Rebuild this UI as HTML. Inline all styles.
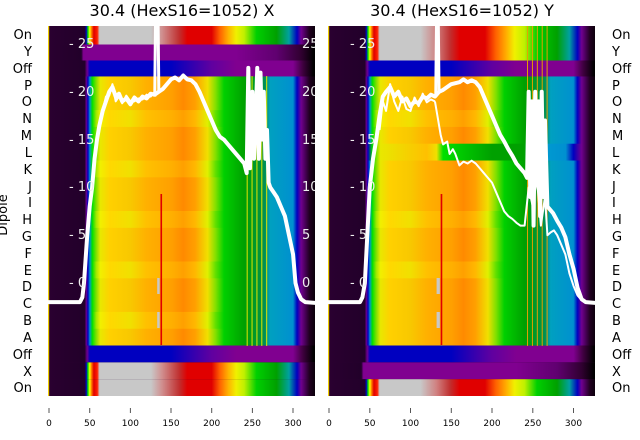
<!DOCTYPE html>
<html><head><meta charset="utf-8"><style>
body{margin:0;background:#fff;}
svg{display:block;font-family:"DejaVu Sans","Liberation Sans",sans-serif;}
</style></head><body>
<svg width="640" height="440" viewBox="0 0 640 440" xmlns="http://www.w3.org/2000/svg">
<defs>
<linearGradient id="main" gradientUnits="userSpaceOnUse" x1="0" y1="0" x2="330" y2="0">
<stop offset="0" stop-color="#2a0030"/><stop offset=".133" stop-color="#22002a"/><stop offset=".139" stop-color="#6a0090"/><stop offset=".145" stop-color="#0000c0"/><stop offset=".152" stop-color="#0090d0"/><stop offset=".161" stop-color="#00e000"/><stop offset=".176" stop-color="#80e000"/><stop offset=".191" stop-color="#e8e800"/><stop offset=".227" stop-color="#ffd000"/><stop offset=".303" stop-color="#f8c800"/><stop offset=".364" stop-color="#ffb000"/><stop offset=".455" stop-color="#ffa000"/><stop offset=".5" stop-color="#ff8a00"/><stop offset=".545" stop-color="#ffa000"/><stop offset=".591" stop-color="#f0e000"/><stop offset=".621" stop-color="#80e000"/><stop offset=".652" stop-color="#00d000"/><stop offset=".727" stop-color="#00a000"/><stop offset=".803" stop-color="#009050"/><stop offset=".824" stop-color="#00a0c0"/><stop offset=".909" stop-color="#0090d0"/><stop offset=".924" stop-color="#0000c0"/><stop offset=".939" stop-color="#700090"/><stop offset=".97" stop-color="#200020"/><stop offset="1" stop-color="#000"/>
</linearGradient>
<linearGradient id="main2" gradientUnits="userSpaceOnUse" x1="0" y1="0" x2="330" y2="0">
<stop offset="0" stop-color="#2a0030"/><stop offset=".133" stop-color="#22002a"/><stop offset=".139" stop-color="#6a0090"/><stop offset=".145" stop-color="#0000c0"/><stop offset=".152" stop-color="#0090d0"/><stop offset=".161" stop-color="#00e000"/><stop offset=".176" stop-color="#a0e800"/><stop offset=".191" stop-color="#f0f000"/><stop offset=".227" stop-color="#ffd800"/><stop offset=".303" stop-color="#f0e000"/><stop offset=".364" stop-color="#ffc000"/><stop offset=".455" stop-color="#ffb000"/><stop offset=".5" stop-color="#ffa000"/><stop offset=".545" stop-color="#ffb800"/><stop offset=".591" stop-color="#e0f000"/><stop offset=".621" stop-color="#60e000"/><stop offset=".652" stop-color="#00d000"/><stop offset=".727" stop-color="#00a000"/><stop offset=".803" stop-color="#009050"/><stop offset=".824" stop-color="#00a0c0"/><stop offset=".909" stop-color="#0090d0"/><stop offset=".924" stop-color="#0000c0"/><stop offset=".939" stop-color="#700090"/><stop offset=".97" stop-color="#200020"/><stop offset="1" stop-color="#000"/>
</linearGradient>
<linearGradient id="on" gradientUnits="userSpaceOnUse" x1="0" y1="0" x2="330" y2="0">
<stop offset="0" stop-color="#2a0030"/><stop offset=".133" stop-color="#22002a"/><stop offset=".139" stop-color="#0000c0"/><stop offset=".145" stop-color="#00e000"/><stop offset=".152" stop-color="#ffff00"/><stop offset=".158" stop-color="#ff8000"/><stop offset=".167" stop-color="#e00000"/><stop offset=".18" stop-color="#ff2000"/><stop offset=".188" stop-color="#c8c8c8"/><stop offset=".38" stop-color="#c8c8c8"/><stop offset=".42" stop-color="#d09090"/><stop offset=".485" stop-color="#c03030"/><stop offset=".515" stop-color="#e00000"/><stop offset=".606" stop-color="#e00000"/><stop offset=".636" stop-color="#ff6000"/><stop offset=".667" stop-color="#ffb000"/><stop offset=".697" stop-color="#f0f000"/><stop offset=".727" stop-color="#c0f000"/><stop offset=".773" stop-color="#00d000"/><stop offset=".848" stop-color="#00a000"/><stop offset=".894" stop-color="#00a0a0"/><stop offset=".924" stop-color="#0000c0"/><stop offset=".939" stop-color="#700090"/><stop offset=".97" stop-color="#200020"/><stop offset="1" stop-color="#000"/>
</linearGradient>
<linearGradient id="onR" gradientUnits="userSpaceOnUse" x1="0" y1="0" x2="330" y2="0">
<stop offset="0" stop-color="#2a0030"/><stop offset=".133" stop-color="#22002a"/><stop offset=".139" stop-color="#0000c0"/><stop offset=".145" stop-color="#00e000"/><stop offset=".152" stop-color="#ffff00"/><stop offset=".158" stop-color="#ff8000"/><stop offset=".167" stop-color="#e00000"/><stop offset=".18" stop-color="#ff2000"/><stop offset=".188" stop-color="#c8c8c8"/><stop offset=".34" stop-color="#c8c8c8"/><stop offset=".40" stop-color="#d08080"/><stop offset=".45" stop-color="#c03030"/><stop offset=".485" stop-color="#e00000"/><stop offset=".58" stop-color="#e00000"/><stop offset=".62" stop-color="#ff6000"/><stop offset=".66" stop-color="#ffb000"/><stop offset=".69" stop-color="#f0f000"/><stop offset=".727" stop-color="#c0f000"/><stop offset=".773" stop-color="#00d000"/><stop offset=".848" stop-color="#00a000"/><stop offset=".894" stop-color="#00a0a0"/><stop offset=".924" stop-color="#0000c0"/><stop offset=".939" stop-color="#700090"/><stop offset=".97" stop-color="#200020"/><stop offset="1" stop-color="#000"/>
</linearGradient>
<linearGradient id="off" gradientUnits="userSpaceOnUse" x1="0" y1="0" x2="330" y2="0">
<stop offset="0" stop-color="#2a0030"/><stop offset=".133" stop-color="#22002a"/><stop offset=".142" stop-color="#700090"/><stop offset=".152" stop-color="#0000c0"/><stop offset=".455" stop-color="#0000c0"/><stop offset=".606" stop-color="#6000a0"/><stop offset=".697" stop-color="#800090"/><stop offset=".909" stop-color="#800090"/><stop offset=".945" stop-color="#400040"/><stop offset=".985" stop-color="#000"/><stop offset="1" stop-color="#000"/>
</linearGradient>
<linearGradient id="purp" gradientUnits="userSpaceOnUse" x1="0" y1="0" x2="330" y2="0">
<stop offset="0" stop-color="#2a0030"/><stop offset=".12" stop-color="#22002a"/><stop offset=".128" stop-color="#800090"/><stop offset=".697" stop-color="#800090"/><stop offset=".848" stop-color="#600070"/><stop offset=".94" stop-color="#300030"/><stop offset=".985" stop-color="#000"/><stop offset="1" stop-color="#000"/>
</linearGradient>
<linearGradient id="lrow" gradientUnits="userSpaceOnUse" x1="0" y1="0" x2="330" y2="0">
<stop offset="0" stop-color="#2a0030"/><stop offset=".133" stop-color="#22002a"/><stop offset=".139" stop-color="#6a0090"/><stop offset=".145" stop-color="#0000c0"/><stop offset=".161" stop-color="#00e000"/><stop offset=".191" stop-color="#e8e800"/><stop offset=".364" stop-color="#ffc000"/><stop offset=".40" stop-color="#f0e000"/><stop offset=".424" stop-color="#00e000"/><stop offset=".606" stop-color="#00a000"/><stop offset=".727" stop-color="#00a000"/><stop offset=".758" stop-color="#00a0d0"/><stop offset=".88" stop-color="#0090d0"/><stop offset=".909" stop-color="#0000c0"/><stop offset=".939" stop-color="#700090"/><stop offset=".97" stop-color="#200020"/><stop offset="1" stop-color="#000"/>
</linearGradient>
<clipPath id="cpL"><rect x="48" y="26" width="267" height="370"/></clipPath>
<clipPath id="cpR"><rect x="328" y="26" width="267" height="370"/></clipPath>
</defs>

<text x="182" y="16" font-size="16" text-anchor="middle" fill="#000">30.4 (HexS16=1052) X</text>
<text x="462" y="16" font-size="16" text-anchor="middle" fill="#000">30.4 (HexS16=1052) Y</text>

<!-- LEFT PANEL -->
<g clip-path="url(#cpL)">
<g transform="translate(49,26) scale(0.8135,1)">
<rect x="-2" y="0" width="332" height="370" fill="#2a0030"/>
<rect x="0" y="0" width="330" height="18.5" fill="url(#on)"/>
<rect x="0" y="18.5" width="330" height="16" fill="url(#purp)"/>
<rect x="0" y="34.5" width="330" height="16" fill="url(#off)"/>
<rect x="0" y="50.45" width="330" height="269.1" fill="url(#main)"/>
<rect x="0" y="84.1" width="330" height="16.82" fill="url(#main2)"/>
<rect x="0" y="134.5" width="330" height="16.82" fill="url(#main2)"/>
<rect x="0" y="185" width="330" height="16.82" fill="url(#main2)"/>
<rect x="0" y="235.5" width="330" height="16.82" fill="url(#main2)"/>
<rect x="0" y="285.9" width="330" height="16.82" fill="url(#main2)"/>
<rect x="0" y="319.5" width="330" height="16.82" fill="url(#off)"/>
<rect x="0" y="336.4" width="330" height="16.82" fill="url(#on)"/>
<rect x="0" y="353.2" width="330" height="16.82" fill="url(#on)"/>
<g fill="#e8e800"><rect x="243" y="50" width="1.2" height="270"/><rect x="249" y="50" width="1.2" height="270"/><rect x="255" y="50" width="1.2" height="270"/><rect x="261" y="50" width="1.2" height="270"/><rect x="267" y="50" width="1.2" height="270"/></g>
<rect x="137" y="168" width="2" height="151" fill="#e00000"/>
<rect x="133" y="252" width="3" height="16" fill="#c8c8c8"/>
<rect x="133" y="286" width="3" height="16" fill="#c8c8c8"/>
</g>
<rect x="48" y="26" width="1.2" height="370" fill="#f0d000"/>
<g transform="translate(49,283) scale(0.8135,-9.56)" fill="none" stroke="#fff" stroke-linejoin="round">
<polyline vector-effect="non-scaling-stroke" stroke-width="4" points="-2,-2 38,-2 41,-1.5 43,0 47,5 50,8 53,10 56,13 59,15 62,16.5 66,18 70,19 74,20 78,20.5 82,19.5 86,19.8 90,19 95,19.3 100,18.7 105,19.4 110,19 115,19.5 120,19.3 125,19.8 130,19.7 135,20 140,20.3 145,20.8 150,21.3 155,21.5 160,21.2 165,21.7 170,21.3 175,21.2 180,20.8 185,20 190,19 195,18 200,17 205,16 210,15.3 215,15 220,14.5 225,14 230,13.5 235,13 240,12.5 243,11.5 245,22.5 247,12 250,20 252,13 254,17 256,22.5 258,13 260,22 262,15 264,20 266,13 268,16 270,10.5 272,10 276,9.5 280,9 285,8 290,7 295,5 300,3 303,0 306,-1 310,-1.7 315,-2 330,-2.1"/>
<polyline vector-effect="non-scaling-stroke" stroke-width="2" points="62,16.5 66,18 70,19.5 74,19.6 78,20.8 82,19 86,19.5 90,18.8 95,19.6 100,19 105,19 110,19.3 115,19.2 120,19.7 125,19.5 130,20"/>
<polyline vector-effect="non-scaling-stroke" stroke-width="3" points="130,19.5 131,28 134,28 135,20"/>
</g>
<text x="302" y="48" font-size="13" fill="#eee">25</text>
<text x="302" y="96" font-size="13" fill="#eee">20</text>
<text x="302" y="144" font-size="13" fill="#eee">15</text>
<text x="302" y="191" font-size="13" fill="#eee">10</text>
<text x="302" y="239" font-size="13" fill="#eee">5</text>
<text x="302" y="287" font-size="13" fill="#eee">0</text>
</g>
<g font-size="13" fill="#eee">
<text x="69" y="48">- 25</text><text x="69" y="96">- 20</text><text x="69" y="144">- 15</text><text x="69" y="191">- 10</text><text x="69" y="239">- 5</text><text x="69" y="287">- 0</text>
</g>

<!-- RIGHT PANEL -->
<g clip-path="url(#cpR)">
<g transform="translate(329,26) scale(0.815,1)">
<rect x="-2" y="0" width="332" height="370" fill="#2a0030"/>
<rect x="0" y="0" width="330" height="34.5" fill="url(#onR)"/>
<rect x="0" y="34.5" width="330" height="16" fill="url(#off)"/>
<rect x="0" y="50.45" width="330" height="269.1" fill="url(#main)"/>
<rect x="0" y="84.1" width="330" height="16.82" fill="url(#main2)"/>
<rect x="0" y="185" width="330" height="16.82" fill="url(#main2)"/>
<rect x="0" y="235.5" width="330" height="16.82" fill="url(#main2)"/>
<rect x="0" y="117.7" width="330" height="16.82" fill="url(#lrow)"/>
<rect x="0" y="319.5" width="330" height="16.82" fill="url(#off)"/>
<rect x="0" y="336.4" width="330" height="16.82" fill="url(#purp)"/>
<rect x="0" y="353.2" width="330" height="16.82" fill="url(#onR)"/>
<g fill="#e8a000"><rect x="243" y="0" width="1.2" height="320"/><rect x="249" y="0" width="1.2" height="320"/><rect x="255" y="0" width="1.2" height="320"/><rect x="261" y="0" width="1.2" height="320"/><rect x="267" y="0" width="1.2" height="320"/></g>
<rect x="137" y="168" width="2" height="151" fill="#e00000"/>
<rect x="132" y="252" width="4" height="16" fill="#c8c8c8"/>
<rect x="132" y="286" width="4" height="16" fill="#c8c8c8"/>
</g>
<rect x="328" y="26" width="1.2" height="370" fill="#f0d000"/>
<g transform="translate(329,283) scale(0.815,-9.56)" fill="none" stroke="#fff" stroke-linejoin="round">
<polyline vector-effect="non-scaling-stroke" stroke-width="4" points="-2,-2 38,-2 41,-1.5 44,0 47,5 50,10 54,13 58,15 62,17.5 66,19.5 70,20 75,20.5 80,19.5 85,20 90,19 95,19.3 100,18.5 105,19 110,18.8 115,19.5 120,19.3 125,19.7 130,19.5 135,20 140,20.2 150,20.8 160,21 165,21.3 170,21 175,21.2 180,21 185,20.5 190,19.5 195,18.5 200,17.5 205,16.5 210,15.5 215,14.8 220,14 225,13.3 230,12.5 235,12 240,11.5 243,11 245,20 247,9 249,19 251,6 253,20 255,11 257,19 259,7 261,20 263,9 265,17 268,8 270,7.8 275,7.3 280,6.5 285,5.8 290,4.8 295,3 300,1.5 305,-0.5 310,-1.7 315,-2 330,-2.1"/>
<polyline vector-effect="non-scaling-stroke" stroke-width="2" points="62,16 66,19 70,18 75,20.8 80,19 85,18 90,19.5 95,18.2 100,18 105,19.4 110,18.5 115,19.8 120,18.9 125,19.2 130,19"/>
<polyline vector-effect="non-scaling-stroke" stroke-width="2" points="130,19 134,17 137,15.5 140,14.5 145,14.8 148,13.5 152,14 155,13.5 160,12.3 165,12.7 170,12.5 175,12.8 180,12.5 185,12 190,11.5 195,11 200,10.5 205,9.5 210,8.5 215,7.5 220,7 225,6.7 230,6.3 235,6 240,6 245,10 250,8 255,11 260,6 265,9 268,5 272,5.3 276,5.5 280,5 285,4 290,3 295,1 300,-0.3 305,-1.3 310,-1.8 315,-2"/>
<polyline vector-effect="non-scaling-stroke" stroke-width="3" points="131,19.5 132,28 134,28 135,20"/>
</g>
</g>
<g font-size="13" fill="#eee">
<text x="350" y="48">- 25</text><text x="350" y="96">- 20</text><text x="350" y="144">- 15</text><text x="350" y="191">- 10</text><text x="350" y="239">- 5</text><text x="350" y="287">- 0</text>
</g>

<!-- row labels -->
<g font-size="13" fill="#000" text-anchor="end">
<text x="32" y="39">On</text><text x="32" y="56">Y</text><text x="32" y="73">Off</text><text x="32" y="90">P</text><text x="32" y="106">O</text><text x="32" y="123">N</text><text x="32" y="140">M</text><text x="32" y="157">L</text><text x="32" y="174">K</text><text x="32" y="191">J</text><text x="32" y="207">I</text><text x="32" y="224">H</text><text x="32" y="241">G</text><text x="32" y="258">F</text><text x="32" y="275">E</text><text x="32" y="291">D</text><text x="32" y="308">C</text><text x="32" y="325">B</text><text x="32" y="342">A</text><text x="32" y="359">Off</text><text x="32" y="376">X</text><text x="32" y="392">On</text>
</g>
<g font-size="13" fill="#000">
<text x="612" y="39">On</text><text x="612" y="56">Y</text><text x="612" y="73">Off</text><text x="612" y="90">P</text><text x="612" y="106">O</text><text x="612" y="123">N</text><text x="612" y="140">M</text><text x="612" y="157">L</text><text x="612" y="174">K</text><text x="612" y="191">J</text><text x="612" y="207">I</text><text x="612" y="224">H</text><text x="612" y="241">G</text><text x="612" y="258">F</text><text x="612" y="275">E</text><text x="612" y="291">D</text><text x="612" y="308">C</text><text x="612" y="325">B</text><text x="612" y="342">A</text><text x="612" y="359">Off</text><text x="612" y="376">X</text><text x="612" y="392">On</text>
</g>
<text transform="translate(7,215) rotate(-90)" font-size="13" text-anchor="middle" fill="#000">Dipole</text>

<!-- x ticks -->
<g stroke="#555" stroke-width="1">
<line x1="49" y1="408" x2="49" y2="413"/><line x1="89.7" y1="408" x2="89.7" y2="413"/><line x1="130.4" y1="408" x2="130.4" y2="413"/><line x1="171" y1="408" x2="171" y2="413"/><line x1="211.7" y1="408" x2="211.7" y2="413"/><line x1="252.4" y1="408" x2="252.4" y2="413"/><line x1="293" y1="408" x2="293" y2="413"/>
<line x1="329" y1="408" x2="329" y2="413"/><line x1="369.8" y1="408" x2="369.8" y2="413"/><line x1="410.5" y1="408" x2="410.5" y2="413"/><line x1="451.3" y1="408" x2="451.3" y2="413"/><line x1="492" y1="408" x2="492" y2="413"/><line x1="532.8" y1="408" x2="532.8" y2="413"/><line x1="573.5" y1="408" x2="573.5" y2="413"/>
</g>
<g font-size="9" fill="#000" text-anchor="middle">
<text x="49" y="426">0</text><text x="89.7" y="426">50</text><text x="130.4" y="426">100</text><text x="171" y="426">150</text><text x="211.7" y="426">200</text><text x="252.4" y="426">250</text><text x="293" y="426">300</text>
<text x="329" y="426">0</text><text x="369.8" y="426">50</text><text x="410.5" y="426">100</text><text x="451.3" y="426">150</text><text x="492" y="426">200</text><text x="532.8" y="426">250</text><text x="573.5" y="426">300</text>
</g>
</svg>
</body></html>
